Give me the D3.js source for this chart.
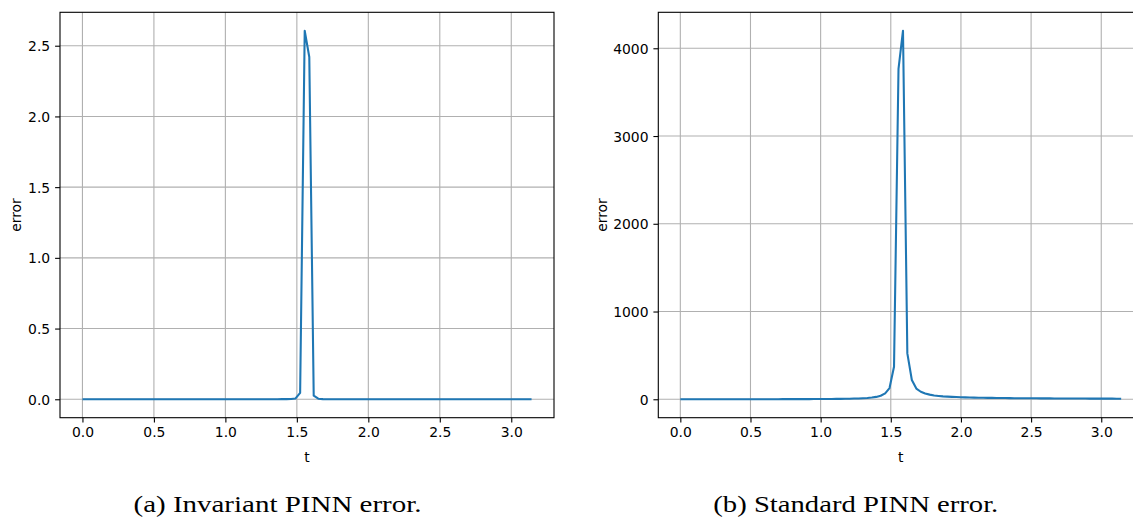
<!DOCTYPE html>
<html>
<head>
<meta charset="utf-8">
<script src="https://cdn.jsdelivr.net/npm/d3@7"></script>
<style>
  body { margin: 0; background: #fff; }
  svg { display: block; }
  .tick text { font-family: "DejaVu Sans", sans-serif; font-size: 13.9px; fill: #000; }
  .lab { font-family: "DejaVu Sans", sans-serif; font-size: 13.9px; fill: #000; }
  .cap { font-family: "Liberation Serif", "DejaVu Serif", serif; font-size: 23px; fill: #000; }
</style>
</head>
<body>
<div id="chart"></div>
<script>
// t grid (100 samples on [0, pi])
var t = [0.000, 0.032, 0.063, 0.095, 0.127, 0.159, 0.190, 0.222, 0.254, 0.286,
  0.317, 0.349, 0.381, 0.413, 0.444, 0.476, 0.508, 0.539, 0.571, 0.603,
  0.635, 0.666, 0.698, 0.730, 0.762, 0.793, 0.825, 0.857, 0.889, 0.920,
  0.952, 0.984, 1.015, 1.047, 1.079, 1.111, 1.142, 1.174, 1.206, 1.238,
  1.269, 1.301, 1.333, 1.365, 1.396, 1.428, 1.460, 1.491, 1.523, 1.555,
  1.587, 1.618, 1.650, 1.682, 1.714, 1.745, 1.777, 1.809, 1.841, 1.872,
  1.904, 1.936, 1.967, 1.999, 2.031, 2.063, 2.094, 2.126, 2.158, 2.190,
  2.221, 2.253, 2.285, 2.317, 2.348, 2.380, 2.412, 2.443, 2.475, 2.507,
  2.539, 2.570, 2.602, 2.634, 2.666, 2.697, 2.729, 2.761, 2.793, 2.824,
  2.856, 2.888, 2.919, 2.951, 2.983, 3.015, 3.046, 3.078, 3.110, 3.142];

// (a) invariant PINN error
var errInvariant = [0, 0, 0, 0, 0, 0, 0, 0, 0, 0,
  0, 0, 0, 0, 0, 0, 0, 0, 0, 0,
  0, 0, 0, 0, 0, 0, 0, 0, 0, 0,
  0, 0, 0, 0, 0, 0, 0, 0, 0, 0,
  0, 0, 0, 0, 0.001, 0.001, 0.002, 0.006, 0.045, 2.606,
  2.42, 0.025, 0.004, 0.001, 0, 0, 0, 0, 0, 0,
  0, 0, 0, 0, 0, 0, 0, 0, 0, 0,
  0, 0, 0, 0, 0, 0, 0, 0, 0, 0,
  0, 0, 0, 0, 0, 0, 0, 0, 0, 0,
  0, 0, 0, 0, 0, 0, 0, 0, 0, 0];

// (b) standard PINN error
var errStandard = [0.5, 0.5, 0.5, 0.5, 0.5, 0.5, 0.5, 0.5, 0.5, 0.5,
  0.7, 0.7, 0.7, 0.8, 0.8, 0.8, 0.9, 0.9, 1.0, 1.0,
  1.0, 1.1, 1.2, 1.3, 1.4, 1.5, 1.6, 1.7, 1.8, 2.0,
  2.2, 2.5, 2.8, 3.2, 3.6, 4.1, 4.8, 5.6, 6.6, 7.9,
  9.6, 12, 15, 20, 27, 40, 68, 128, 371, 3766,
  4200, 523, 220, 122, 86, 66, 53, 44, 38, 33,
  30, 27, 25, 23, 21.5, 20, 19, 18, 17, 16.2,
  15.5, 14.8, 14.2, 13.6, 13.1, 12.6, 12.2, 11.8, 11.4, 11,
  10.7, 10.4, 10.1, 9.8, 9.5, 9.3, 9.0, 8.8, 8.6, 8.4,
  8.2, 8.0, 7.8, 7.6, 7.5, 7.3, 7.2, 7.0, 6.9, 6.8];

var xTicks = [0, 0.5, 1.0, 1.5, 2.0, 2.5, 3.0],
    yTicksA = [0, 0.5, 1.0, 1.5, 2.0, 2.5],
    yTicksB = [0, 1000, 2000, 3000, 4000];

var W = 1133, H = 517;
var svg = d3.select("#chart").append("svg")
  .attr("width", W)
  .attr("height", H);

function panel(opt) {
  var g = svg.append("g");
  var top = 12.3, bottom = 417.7;

  var x = d3.scaleLinear().domain([-0.157, 3.299]).range([opt.left, opt.right]);
  var ymax = d3.max(opt.values), m = ymax * 0.05;
  var y = d3.scaleLinear().domain([-m, ymax + m]).range([bottom, top]);

  // grid
  g.append("g")
    .selectAll("line.gx")
    .data(xTicks)
    .enter().append("line")
    .attr("x1", function(d) { return x(d); })
    .attr("x2", function(d) { return x(d); })
    .attr("y1", top).attr("y2", bottom)
    .attr("stroke", "#b0b0b0").attr("stroke-width", 1.1);
  g.append("g")
    .selectAll("line.gy")
    .data(opt.yTicks)
    .enter().append("line")
    .attr("x1", opt.left).attr("x2", Math.min(opt.right, W))
    .attr("y1", function(d) { return y(d); })
    .attr("y2", function(d) { return y(d); })
    .attr("stroke", "#b0b0b0").attr("stroke-width", 1.1);

  // the curve
  g.append("path")
    .datum(t)
    .attr("fill", "none")
    .attr("stroke", "#1f77b4")
    .attr("stroke-width", 2.08)
    .attr("stroke-linejoin", "round")
    .attr("d", d3.line()
      .x(function(d) { return x(d); })
      .y(function(d, i) { return y(opt.values[i]); }));

  // spines
  g.append("rect")
    .attr("x", opt.left).attr("y", top)
    .attr("width", opt.right - opt.left).attr("height", bottom - top)
    .attr("fill", "none").attr("stroke", "#000").attr("stroke-width", 1.1);

  // axes
  var xa = g.append("g")
    .attr("transform", "translate(0," + bottom + ")")
    .call(d3.axisBottom(x).tickValues(xTicks).tickFormat(d3.format(".1f"))
      .tickSize(4.9).tickPadding(4.6));
  var ya = g.append("g")
    .attr("transform", "translate(" + opt.left + ",0)")
    .call(d3.axisLeft(y).tickValues(opt.yTicks).tickFormat(opt.fmt)
      .tickSize(4.9).tickPadding(4.9));
  [xa, ya].forEach(function(a) {
    a.select(".domain").remove();
    a.selectAll(".tick line").attr("stroke", "#000").attr("stroke-width", 1.1);
  });
  ya.selectAll(".tick text").attr("dy", "0.36em");

  // labels
  g.append("text")
    .attr("class", "lab")
    .attr("text-anchor", "middle")
    .attr("x", (opt.left + opt.right) / 2)
    .attr("y", 462)
    .text("t");
  g.append("text")
    .attr("class", "lab")
    .attr("text-anchor", "middle")
    .attr("transform", "translate(" + opt.ylabX + "," + (top + bottom) / 2 + ")rotate(-90)")
    .text("error");

  g.append("text")
    .attr("class", "cap")
    .attr("text-anchor", "middle")
    .attr("x", opt.capX)
    .attr("y", 511.5)
    .attr("textLength", opt.capW)
    .attr("lengthAdjust", "spacingAndGlyphs")
    .text(opt.caption);
}

panel({
  left: 60, right: 554, values: errInvariant, yTicks: yTicksA,
  fmt: d3.format(".1f"), ylabX: 20.5, capX: 277.5, capW: 288,
  caption: "(a) Invariant PINN error."
});
panel({
  left: 658.3, right: 1143.2, values: errStandard, yTicks: yTicksB,
  fmt: d3.format("d"), ylabX: 606.5, capX: 855.8, capW: 285,
  caption: "(b) Standard PINN error."
});
</script>
</body>
</html>
